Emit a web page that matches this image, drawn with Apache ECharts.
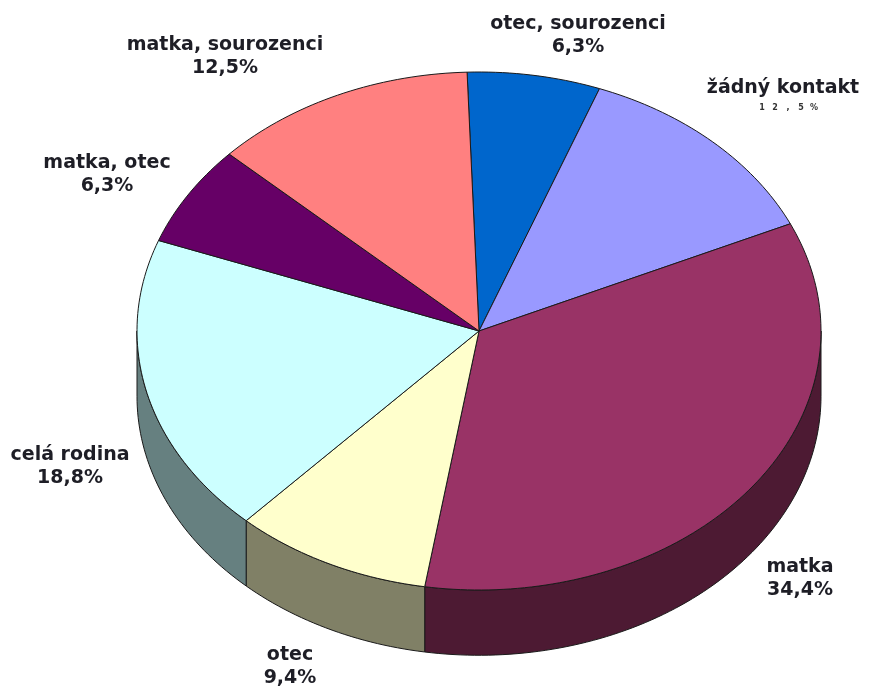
<!DOCTYPE html>
<html>
<head>
<meta charset="utf-8">
<script src="https://cdn.jsdelivr.net/npm/echarts@6/dist/echarts.min.js"></script>
<style>
  html, body { margin: 0; padding: 0; background: #ffffff; }
  #chart { width: 878px; height: 689px; }
</style>
</head>
<body>
<div id="chart"></div>
<script>
// Slices, clockwise from the top
const categories = ['otec, sourozenci', 'žádný kontakt', 'matka', 'otec', 'celá rodina', 'matka, otec', 'matka, sourozenci'];
const shares = [6.3, 12.5, 34.4, 9.4, 18.8, 6.3, 12.5];

// Face colours and label anchors (centre of the category line, px)
const topColors = ['#0066CC', '#9999FF', '#993366', '#FFFFCC', '#CCFFFF', '#660066', '#FF8080'];
const labelAnchors = [[578, 24], [783, 88], [800, 567], [290, 655], [70, 455], [107, 163], [225, 45]];
const smallValueSlices = [1];

const START_ANGLE = 92;   // degrees, first slice starts just left of 12 o'clock
const DEPTH = 0.252;      // wall height in y-axis units
const FONT = 'bold 19px "DejaVu Sans", Verdana, sans-serif';

const total = shares.reduce((a, b) => a + b, 0);
const bounds = [];
let acc = 0;
shares.forEach((v) => { bounds.push([acc, acc + v]); acc += v; });

function toAngle(p) { return START_ANGLE - p / total * 360; }
function shade(hex, f) {
  const n = parseInt(hex.slice(1), 16);
  const r = Math.round(((n >> 16) & 255) * f), g = Math.round(((n >> 8) & 255) * f), b = Math.round((n & 255) * f);
  return 'rgb(' + r + ',' + g + ',' + b + ')';
}
function fmt(v) { return v.toFixed(1).replace('.', ',') + '%'; }
function arc(api, a1, a2, dy) {
  const pts = [];
  const n = Math.max(2, Math.ceil(Math.abs(a1 - a2) / 1.2));
  for (let k = 0; k <= n; k++) {
    const t = (a1 + (a2 - a1) * k / n) * Math.PI / 180;
    pts.push(api.coord([Math.cos(t), Math.sin(t) + dy]));
  }
  return pts;
}

const data = bounds.map((b, i) => ({ name: categories[i], value: [0, 0, b[0], b[1], shares[i]] }));

const chart = echarts.init(document.getElementById('chart'), null, { renderer: 'canvas' });
chart.setOption({
  animation: false,
  backgroundColor: '#ffffff',
  grid: { left: 137, top: 72, width: 684, height: 518 },
  xAxis: { type: 'value', min: -1, max: 1, show: false },
  yAxis: { type: 'value', min: -1, max: 1, show: false },
  series: [
    {
      // front wall of the disc
      type: 'custom',
      z: 1,
      silent: true,
      encode: { x: 0, y: 1 },
      data: data,
      renderItem: function (params, api) {
        const i = params.dataIndex;
        const a1 = toAngle(api.value(2)), a2 = toAngle(api.value(3));
        const hi = Math.min(a1, 0), lo = Math.max(a2, -180);
        if (hi <= lo) return { type: 'group', children: [] };
        const top = arc(api, hi, lo, 0);
        const bottom = arc(api, lo, hi, -DEPTH);
        return {
          type: 'polygon',
          shape: { points: top.concat(bottom) },
          style: { fill: shade(topColors[i], 0.5), stroke: '#1a1a1a', lineWidth: 1 }
        };
      }
    },
    {
      // top faces and labels
      type: 'custom',
      z: 2,
      silent: true,
      encode: { x: 0, y: 1 },
      data: data,
      renderItem: function (params, api) {
        const i = params.dataIndex;
        const a1 = toAngle(api.value(2)), a2 = toAngle(api.value(3));
        const pts = [api.coord([0, 0])].concat(arc(api, a1, a2, 0));
        const [lx, ly] = labelAnchors[i];
        const children = [{
          type: 'polygon',
          shape: { points: pts },
          style: { fill: topColors[i], stroke: '#1a1a1a', lineWidth: 1 }
        }, {
          type: 'text',
          style: { text: categories[i], x: lx, y: ly, align: 'center', verticalAlign: 'middle', font: FONT, fill: '#1e1e26' }
        }];
        const valueText = fmt(api.value(4));
        if (smallValueSlices.indexOf(i) >= 0) {
          const chars = valueText.split('');
          chars.forEach((c, k) => {
            children.push({
              type: 'text',
              style: { text: c, x: lx + 5 + (k - (chars.length - 1) / 2) * 13, y: ly + 20, align: 'center', verticalAlign: 'middle', font: 'bold 8px "DejaVu Sans", sans-serif', fill: '#333' }
            });
          });
        } else {
          children.push({
            type: 'text',
            style: { text: valueText, x: lx, y: ly + 23, align: 'center', verticalAlign: 'middle', font: FONT, fill: '#1e1e26' }
          });
        }
        return { type: 'group', children: children };
      }
    }
  ]
});
</script>
</body>
</html>
